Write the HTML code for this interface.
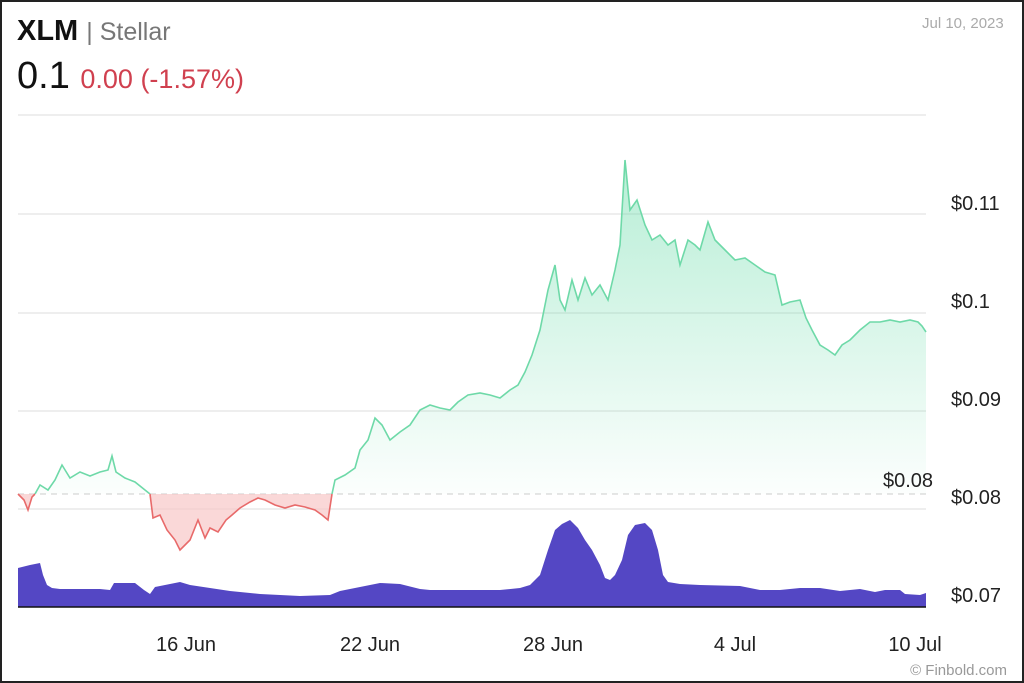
<!DOCTYPE html>
<html><head><meta charset="utf-8"><style>
html,body{margin:0;padding:0;background:#fff}
body{width:1024px;height:683px;position:relative;overflow:hidden;font-family:"Liberation Sans",sans-serif}
.frame{position:absolute;left:0;top:0;width:1020px;height:679px;border:2px solid #222}
.t{position:absolute;white-space:nowrap}
</style></head><body>
<div class="frame"></div>
<div class="t" style="left:17px;top:15px;font-size:29px;font-weight:bold;color:#111">XLM <span style="font-weight:normal;color:#777;font-size:25px">| Stellar</span></div>
<div class="t" style="left:17px;top:55px;font-size:38px;color:#111">0.1 <span style="font-size:27px;color:#d0404f">0.00 (-1.57%)</span></div>
<div class="t" style="left:922px;top:15px;font-size:15px;color:#aaa">Jul 10, 2023</div>
<svg width="1024" height="683" style="position:absolute;left:0;top:0">
<defs>
<linearGradient id="g" x1="0" y1="160" x2="0" y2="494" gradientUnits="userSpaceOnUse"><stop offset="0" stop-color="#5fd9a3" stop-opacity="0.45"/><stop offset="1" stop-color="#5fd9a3" stop-opacity="0.02"/></linearGradient>
<clipPath id="up"><rect x="0" y="0" width="1024" height="494"/></clipPath>
<clipPath id="dn"><rect x="0" y="494" width="1024" height="200"/></clipPath>
</defs>
<g stroke="#ddd" stroke-width="1">
<line x1="18" y1="115" x2="926" y2="115"/><line x1="18" y1="214" x2="926" y2="214"/><line x1="18" y1="313" x2="926" y2="313"/><line x1="18" y1="411" x2="926" y2="411"/><line x1="18" y1="509" x2="926" y2="509"/>
</g>
<line x1="18" y1="494" x2="926" y2="494" stroke="#ccc" stroke-dasharray="6,5"/>
<polygon clip-path="url(#up)" fill="url(#g)" points="18,494 24,500 28,510 32,497 35,494 40,485 48,490 55,480 62,465 70,478 80,472 90,476 100,472 108,470 112,456 116,472 125,478 135,482 145,490 150,494 153,518 160,515 167,530 175,540 180,550 185,545 190,540 198,520 205,538 210,528 218,532 226,520 232,515 240,508 250,502 258,498 265,500 275,505 285,508 295,505 305,507 315,510 322,515 328,520 332,494 335,480 345,475 355,468 360,450 368,440 375,418 382,425 390,440 400,432 410,425 420,410 430,405 440,408 450,410 458,402 468,395 480,393 490,395 500,398 510,390 518,385 525,372 532,355 540,330 548,290 555,265 560,300 565,310 572,280 578,300 585,278 592,295 600,285 608,300 615,270 620,245 625,160 630,210 637,200 645,225 652,240 660,235 668,245 675,240 680,265 688,240 695,245 700,250 708,222 715,240 725,250 735,260 745,258 755,265 765,272 775,275 782,305 790,302 800,300 806,318 812,330 820,345 828,350 835,355 842,345 850,340 860,330 870,322 880,322 890,320 900,322 910,320 918,322 922,326 926,332 926,494"/>
<polygon fill="#f8c8c8" fill-opacity="0.7" points="150,494 153,518 160,515 167,530 175,540 180,550 185,545 190,540 198,520 205,538 210,528 218,532 226,520 232,515 240,508 250,502 258,498 265,500 275,505 285,508 295,505 305,507 315,510 322,515 328,520 332,494"/>
<polygon fill="#f8c8c8" fill-opacity="0.7" points="18,494 24,500 28,510 32,497 35,494"/>
<polyline fill="none" stroke-width="1.6" stroke="#6ed9a8" clip-path="url(#up)" points="35,494 40,485 48,490 55,480 62,465 70,478 80,472 90,476 100,472 108,470 112,456 116,472 125,478 135,482 145,490 150,494"/>
<polyline fill="none" stroke-width="1.6" stroke="#6ed9a8" clip-path="url(#up)" points="332,494 335,480 345,475 355,468 360,450 368,440 375,418 382,425 390,440 400,432 410,425 420,410 430,405 440,408 450,410 458,402 468,395 480,393 490,395 500,398 510,390 518,385 525,372 532,355 540,330 548,290 555,265 560,300 565,310 572,280 578,300 585,278 592,295 600,285 608,300 615,270 620,245 625,160 630,210 637,200 645,225 652,240 660,235 668,245 675,240 680,265 688,240 695,245 700,250 708,222 715,240 725,250 735,260 745,258 755,265 765,272 775,275 782,305 790,302 800,300 806,318 812,330 820,345 828,350 835,355 842,345 850,340 860,330 870,322 880,322 890,320 900,322 910,320 918,322 922,326 926,332"/>
<polyline fill="none" stroke-width="1.6" stroke="#e86a6a" points="18,494 24,500 28,510 32,497 35,494"/>
<polyline fill="none" stroke-width="1.6" stroke="#e86a6a" points="150,494 153,518 160,515 167,530 175,540 180,550 185,545 190,540 198,520 205,538 210,528 218,532 226,520 232,515 240,508 250,502 258,498 265,500 275,505 285,508 295,505 305,507 315,510 322,515 328,520 332,494"/>
<polygon fill="#5447c4" points="18,607 18,568 30,565 40,563 43,575 47,585 52,588 60,589 100,589 110,590 114,583 135,583 144,590 150,594 155,587 170,584 180,582 190,585 210,588 230,591 260,594 300,596 330,595 340,591 360,587 380,583 400,584 420,589 430,590 500,590 520,588 530,585 540,575 548,550 555,530 562,524 570,520 578,528 585,540 592,550 600,565 605,578 610,580 615,575 622,560 628,535 635,525 645,523 652,530 658,550 663,575 668,582 680,584 700,585 740,586 760,590 780,590 800,588 820,588 840,591 860,589 875,592 885,590 900,590 905,594 920,595 926,593 926,607"/>
<line x1="18" y1="607" x2="926" y2="607" stroke="#111" stroke-width="1.5"/>
<g font-size="20" fill="#222" font-family="Liberation Sans, sans-serif">
<text x="951" y="210">$0.11</text><text x="951" y="308">$0.1</text><text x="951" y="406">$0.09</text><text x="951" y="504">$0.08</text><text x="951" y="602">$0.07</text>
<text x="883" y="487">$0.08</text>
<text x="186" y="651" text-anchor="middle">16 Jun</text><text x="370" y="651" text-anchor="middle">22 Jun</text><text x="553" y="651" text-anchor="middle">28 Jun</text><text x="735" y="651" text-anchor="middle">4 Jul</text><text x="915" y="651" text-anchor="middle">10 Jul</text>
</g>
<text x="1007" y="675" font-size="15" fill="#999" text-anchor="end" font-family="Liberation Sans, sans-serif">© Finbold.com</text>
</svg>
</body></html>
